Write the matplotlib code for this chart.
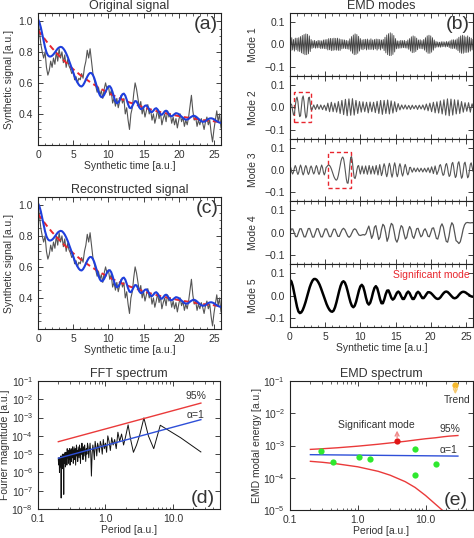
import numpy as np
import matplotlib
matplotlib.use("Agg")
import matplotlib.pyplot as plt
from matplotlib.patches import Rectangle
from matplotlib.ticker import MultipleLocator, LogLocator, NullLocator, NullFormatter

# ---- data ----
dt_slow = 0.2     # sampling of signal, trend, modes 4-5
dt_fast = 0.125   # sampling of modes 1-3

signal = [1.00,0.93,0.85,0.80,0.76,0.80,0.70,0.65,0.68,0.74,
          0.70,0.76,0.72,0.80,0.74,0.82,0.76,0.80,0.73,0.78,
          0.70,0.75,0.71,0.69,0.66,0.68,0.62,0.64,0.60,0.63,
          0.62,0.66,0.63,0.70,0.74,0.81,0.76,0.82,0.74,0.66,
          0.62,0.58,0.54,0.57,0.52,0.55,0.50,0.56,0.60,0.56,
          0.58,0.52,0.55,0.47,0.50,0.45,0.50,0.44,0.48,0.52,
          0.47,0.50,0.40,0.44,0.36,0.30,0.40,0.44,0.53,0.60,
          0.56,0.50,0.44,0.48,0.40,0.44,0.38,0.42,0.46,0.40,
          0.43,0.36,0.40,0.34,0.38,0.43,0.37,0.41,0.33,0.37,
          0.40,0.35,0.42,0.38,0.40,0.34,0.38,0.33,0.37,0.31,
          0.36,0.40,0.35,0.38,0.32,0.36,0.33,0.38,0.45,0.52,
          0.42,0.36,0.38,0.32,0.36,0.33,0.37,0.34,0.30,0.35,
          0.38,0.33,0.36,0.28,0.22,0.30,0.36,0.42,0.35,0.40,
          0.31]

trend = [0.940,0.927,0.915,0.903,0.891,0.879,0.868,0.856,0.845,0.835,
         0.824,0.814,0.803,0.793,0.784,0.774,0.765,0.756,0.747,0.738,
         0.729,0.720,0.712,0.704,0.696,0.688,0.680,0.673,0.666,0.658,
         0.651,0.644,0.637,0.631,0.624,0.618,0.612,0.605,0.599,0.593,
         0.588,0.582,0.576,0.571,0.565,0.560,0.555,0.550,0.545,0.540,
         0.535,0.531,0.526,0.522,0.517,0.513,0.509,0.505,0.501,0.497,
         0.493,0.489,0.485,0.482,0.478,0.474,0.471,0.468,0.464,0.461,
         0.458,0.455,0.452,0.449,0.446,0.443,0.440,0.437,0.434,0.432,
         0.429,0.427,0.424,0.422,0.419,0.417,0.415,0.412,0.410,0.408,
         0.406,0.404,0.402,0.400,0.398,0.396,0.394,0.392,0.390,0.388,
         0.387,0.385,0.383,0.382,0.380,0.378,0.377,0.375,0.374,0.372,
         0.371,0.370,0.368,0.367,0.365,0.364,0.363,0.362,0.360,0.359,
         0.358,0.357,0.356,0.355,0.354,0.353,0.351,0.350,0.349,0.348,
         0.348]

# modes in units of 1e-3
mode1 = [20,-28,30,-25,22,-30,28,-24, 28,-30,30,-32,35,-38,40,-42,
         44,-46,47,-46,45,-42,38,-32, 22,-18,16,-15,18,-17,14,-16,
         18,-15,17,-19,16,-18,20,-19, 21,-20,22,-25,26,-24,27,-28,
         26,-27,28,-25,27,-26,28,-27, 25,-27,22,-20,21,-18,20,-19,
         18,-20,16,-22,25,-30,35,-40, 42,-46,47,-45,44,-40,36,-30,
         26,-22,20,-24,22,-20,23,-25, 24,-22,20,-23,25,-22,20,-24,
         22,-20,24,-26,23,-20,22,-25, 20,-18,22,-28,32,-38,42,-46,
         48,-50,52,-50,48,-45,40,-34, 26,-20,16,-18,15,-17,18,-16,
         17,-15,18,-16,14,-17,20,-22, 26,-30,34,-37,38,-36,35,-32,
         28,-24,20,-18,21,-19,17,-20, 22,-26,30,-34,38,-40,41,-40,
         38,-35,30,-26,20,-16,13,-12, 11,-12,10,-13,12,-11,12,-10,
         11,-12,13,-10,12,-14,16,-18, 20,-19,21,-18,20,-22,25,-28,
         32,-36,38,-40,41,-40,38,-36, 33,-36,38,-35,32,-30,28,-25,
         22]

mode2 = [5,15,10,-15,-35,-30,5,35,45,25,-15,-42,-38,0,40,50,25,-20,-48,-40,0,40,45,15,-10,
         -12,0,10,0,-10,0,12,0,-9,0,10,0,-11,0,9,0,
         -15,0,18,0,-20,0,22,0,-20,0,18,0,-22,0,25,0,
         -28,0,30,0,-33,0,35,0,-38,0,37,0,-36,0,38,0,-35,0,30,0,-28,0,25,0,
         -22,0,24,0,-20,0,22,0,-25,0,23,0,-20,0,22,0,-24,0,26,0,
         -28,0,30,0,-32,0,30,0,-28,0,32,0,-30,0,28,0,-26,0,24,0,-20,0,16,0,
         -12,0,10,0,-8,0,10,0,-9,0,8,0,-10,0,9,0,-7,0,8,0,-10,0,9,0,-8,0,10,0,-12,0,14,0,-16,0,18,0,
         -20,0,22,0,-25,0,24,0,-26,0,28,0,-30,0,33,0,-35,0,37,0,-38,0,36,0,-35,0,33,0,-30,0,32,0,-28,0,25,0,-22,0,20,0,
         -18,0,20,0,-22,0,15,0]

mode3 = [18,9,-9,-18,-9,9, 20,10,-10,-20,-10,10, 22,11,-11,-22,-11,11,
         20,10,-10,-20,-10,10, 18,9,-9,-18,-9,9, 20,10,-10,-20,-10,10,
         22,11,-11,-22,-11,11, 15,20,
         22,20,14,5,-7,-19,-30,-38,-44,-45,-38,-23,-2,20,40,53,58,49,24,-9,
         -39,-58,-59,-28,20,56,60,35,-4,-34,-38,-24,-1,17,20,
         0,-18,0,18,0,-17,0,18,0,-19,0,20,0,-18,0,17,0,-18,0,20,0,-22,0,24,0,-25,
         -13,13,28,15,-15,-30,-15,15,30,15,-15,-32,-16,16,32,16,
         -16,-30,-15,15,28,14,-14,-27,-13,13,25,12,-12,-22,-11,11,
         12,0,-10,0,9,0,-8,0,9,0,-8,0,8,0,-9,0,8,0,-9,0,10,0,-12,0,14,0,-16,0,18,0,-20,-10,
         0,20,24,11,-11,-24,-20, 0,23,29,13,-13,-29,-23, 0,27,34,15,-15,-34,-27,
         0,30,37,16,-16,-37,-30, 0,28,35,15,-15,-35,-28, 0,25,32,14,-5]

mode4 = [0,17,17,0,-17,-17, 0,18,18,0,-18,-18, 0,19,19,0,-19,-19,
         0,18,18,0,-18,-18, 0,17,17,0,-17,-17, 0,16,16,0,-16,-16,
         0,14,20,14,0,-14,-20,-14, 0,13,18,13,0,-10,-12,-10,
         -8,-10,-4,
         15,30,5,-25,-10,25,32,0,-30,-20, 15,38,30,0,-38,-20,20,42,35,5,
         -30,-42,-25,10,32,25,-5,-28,-20,10, 28,15,-15,-25,-5,18,20,0,-18,-12,
         10,18,5,-15,-18,0,20,22,0,-25, -28,-5,28,40,25,-10,-38,-42,-15,25,
         45,35,0,-35,-40,-48,-40,-15,15,35, 44,46,45,44,45,45]

mode5 = [70,63,42,12,-20,-50,-71,-78,-75,-65,
         -49,-30,-7,15,37,54,67,74,74,70,
         61,49,33,15,-3,-21,-38,-52,-63,-70,
         -72,-67,-52,-30,-4,22,44,59,64,58,
         42,19,-7,-30,-46,-52,-45,-27,-2,23,
         41,48,40,18,-10,-32,-40,-32,-12,14,
         34,42,33,10,-16,-34,-34,-17,6,22,
         23,8,-10,-18,-13,0,13,18,11,-3,
         -15,-15,-3,11,18,11,-3,-15,-15,-4,
         11,17,11,-1,-11,-11,-3,7,15,15,
         12,6,-1,-8,-13,-15,-13,-7,2,10,
         16,18,16,10,3,-4,-10,-12,-10,-5,
         3,10,15,17,16,13,8,4,-1,-4,
         -5]

# FFT magnitude (log10) at frequency index k = 1..130
fft_log = [-4.88,-4.10,-3.70,-3.42,-4.70,-4.00,-3.02,-3.90,-4.50,-4.90,-4.20,-3.40,
           -4.0,-4.5,-3.9,-4.3,-3.8,-4.7,-4.2,-4.5,-4.1,-4.8,
           -4.3,-4.0,-4.9,-4.4,-4.7,-4.2,-5.0,-4.5,-4.3,-4.9,
           -4.6,-4.4,-5.1,-4.6,-4.3,-5.3,-4.8,-4.5,-5.0,-6.2,
           -4.9,-4.4,-4.8,-5.2,-4.6,-4.4,-5.0,-4.7,-5.4,-4.8,
           -4.5,-5.1,-4.6,-5.3,-4.9,-4.4,-5.0,-4.7,-5.5,-4.8,
           -4.5,-5.2,-4.9,-4.6,-5.4,-4.8,-5.1,-4.5,-5.0,-5.6,
           -4.7,-4.9,-5.3,-4.6,-5.0,-5.5,-4.8,-4.6,-5.2,-4.9,
           -5.4,-4.7,-5.1,-4.8,-5.6,-5.0,-4.7,-5.3,-4.9,-5.5,
           -4.8,-5.2,-5.0,-4.7,-5.6,-5.1,-4.9,-5.4,-5.0,-5.7,
           -4.9,-5.2,-5.5,-5.0,-5.3,-7.2,-5.4,-5.0,-5.6,-5.2,
           -5.0,-5.8,-5.3,-5.1,-5.6,-7.4,-5.5,-5.1,-5.4,-5.7,
           -5.2,-5.5,-6.0,-5.3,-5.6,-5.2,-5.5,-5.3]
fft_fit_period = [0.2, 26.0]
fft_alpha1 = [6.0e-6, 7.7e-4]
fft_conf95 = [4.8e-5, 6.2e-3]

emd_period = [0.29, 0.43, 1.06, 1.51, 7.0, 6.9, 14.1]
emd_energy = [7.0e-4, 3.0e-4, 4.4e-4, 3.7e-4, 7.9e-4, 1.2e-4, 2.6e-4]
sig_period, sig_energy = 3.8, 1.4e-3
trend_period, trend_energy = 27.5, 7.5e-2
emd_conf_period = [0.2, 0.3, 0.5, 1, 2, 3, 5, 7, 10, 14, 18, 22, 30]
emd_upper_log = [-3.12,-3.10,-3.07,-3.02,-2.96,-2.92,-2.87,-2.83,-2.79,-2.76,-2.73,-2.71,-2.69]
emd_lower_log = [-3.49,-3.52,-3.57,-3.66,-3.80,-3.92,-4.12,-4.30,-4.55,-4.82,-5.02,-5.20,-5.55]
emd_fit_period = [0.2, 30.0]
emd_alpha1 = [5.2e-4, 4.7e-4]

# ---- style ----
plt.rcParams.update({
    "font.size": 7,
    "text.color": "#333333",
    "axes.labelcolor": "#333333",
    "axes.edgecolor": "#222222",
    "axes.linewidth": 0.8,
    "xtick.color": "#222222",
    "ytick.color": "#222222",
    "xtick.labelcolor": "#333333",
    "ytick.labelcolor": "#333333",
    "xtick.direction": "in",
    "ytick.direction": "in",
    "xtick.top": True,
    "ytick.right": True,
    "xtick.major.size": 3.5,
    "ytick.major.size": 3.5,
    "xtick.minor.size": 1.8,
    "ytick.minor.size": 1.8,
    "xtick.major.width": 0.6,
    "ytick.major.width": 0.6,
    "xtick.minor.width": 0.5,
    "ytick.minor.width": 0.5,
    "xtick.labelsize": 7.5,
    "ytick.labelsize": 7.5,
    "axes.titlesize": 9,
    "axes.labelsize": 7.5,
    "mathtext.fontset": "custom",
    "mathtext.rm": "Liberation Sans",
    "mathtext.it": "Liberation Sans:italic",
})
plt.rcParams["font.family"] = ["Liberation Sans", "DejaVu Sans"]

GREY = "#555555"
RED = "#e8262e"
BLUE = "#1f3fdc"

t_slow = np.arange(len(signal)) * dt_slow
blue = np.array(trend) + np.array(mode5) * 1e-3

fig = plt.figure(figsize=(4.74, 5.38), dpi=100)


def signal_panel(rect, title, label):
    ax = fig.add_axes(rect)
    ax.plot(t_slow, signal, color=GREY, lw=0.8)
    ax.plot(t_slow, trend, color=RED, lw=1.4, ls=(0, (3, 2)))
    ax.plot(t_slow, blue, color=BLUE, lw=1.5)
    ax.set_xlim(0, 26)
    ax.set_ylim(0.2, 1.05)
    ax.set_xticks([0, 5, 10, 15, 20, 25])
    ax.set_yticks([0.4, 0.6, 0.8, 1.0])
    ax.set_yticklabels(["0.4", "0.6", "0.8", "1.0"])
    ax.xaxis.set_minor_locator(MultipleLocator(1))
    ax.yaxis.set_minor_locator(MultipleLocator(0.05))
    ax.set_title(title, pad=3)
    ax.set_xlabel("Synthetic time [a.u.]", labelpad=1)
    ax.set_ylabel("Synthetic signal [a.u.]", labelpad=3)
    ax.text(0.985, 0.91, label, transform=ax.transAxes, ha="right", va="center", fontsize=14)
    return ax


signal_panel([0.0802, 0.7305, 0.386, 0.2453], "Original signal", "(a)")
signal_panel([0.0802, 0.3885, 0.386, 0.2453], "Reconstructed signal", "(c)")

# EMD modes
modes = [(mode1, dt_fast, "#444444", 0.6), (mode2, dt_fast, GREY, 0.8),
         (mode3, dt_fast, GREY, 0.8), (mode4, dt_slow, GREY, 0.9),
         (mode5, dt_slow, "black", 1.8)]
h = 0.11673
mode_axes = []
for i, (vals, dt, col, lw) in enumerate(modes):
    ax = fig.add_axes([0.6118, 0.3922 + (4 - i) * h, 0.386, h])
    tt = np.arange(len(vals)) * dt
    ax.plot(tt, np.array(vals) * 1e-3, color=col, lw=lw)
    ax.set_xlim(0, 26)
    ax.set_ylim(-0.14, 0.14)
    ax.set_yticks([-0.1, 0.0, 0.1])
    ax.set_yticklabels(["\u22120.1", "0.0", "0.1"])
    ax.set_xticks([0, 5, 10, 15, 20, 25])
    ax.xaxis.set_minor_locator(MultipleLocator(1))
    ax.set_ylabel("Mode %d" % (i + 1), labelpad=5)
    if i < 4:
        ax.tick_params(labelbottom=False)
    mode_axes.append(ax)

mode_axes[0].set_title("EMD modes", pad=3)
mode_axes[0].text(0.985, 0.81, "(b)", transform=mode_axes[0].transAxes,
                  ha="right", va="center", fontsize=14)
mode_axes[1].add_patch(Rectangle((0.6, -0.068), 2.4, 0.136, fill=False,
                                 ec=RED, lw=1.0, ls=(0, (3, 2))))
mode_axes[2].add_patch(Rectangle((5.47, -0.079), 3.2, 0.159, fill=False,
                                 ec=RED, lw=1.0, ls=(0, (3, 2))))
mode_axes[4].text(25.6, 0.09, "Significant mode", color=RED, ha="right", va="center", fontsize=7.5)
mode_axes[4].set_xlabel("Synthetic time [a.u.]", labelpad=1)


def log_axes(ax, ymin):
    ax.set_xscale("log")
    ax.set_yscale("log")
    ax.set_xlim(0.1, 50)
    ax.set_ylim(ymin, 1e-1)
    ax.set_xticks([0.1, 1, 10])
    ax.set_xticklabels(["0.1", "1.0", "10.0"])
    ax.xaxis.set_minor_locator(LogLocator(base=10, subs=np.arange(2, 10)))
    ax.xaxis.set_minor_formatter(NullFormatter())
    ax.yaxis.set_major_locator(LogLocator(base=10, numticks=20))
    ax.yaxis.set_minor_locator(NullLocator())
    ax.set_xlabel("Period [a.u.]", labelpad=1)


# FFT spectrum
axd = fig.add_axes([0.0802, 0.0539, 0.384, 0.2379])
fft_period = 26.0 / np.arange(1, len(fft_log) + 1)
axd.plot(fft_period, 10.0 ** np.array(fft_log), color="#111111", lw=0.7)
axd.plot(fft_fit_period, fft_conf95, color="#ea3a3a", lw=1.0)
axd.plot(fft_fit_period, fft_alpha1, color="#2e4fd8", lw=1.0)
log_axes(axd, 1e-8)
axd.set_title("FFT spectrum", pad=3)
axd.set_ylabel("Fourier magnitude [a.u.]", labelpad=1)
axd.text(22, 1.5e-2, "95%", ha="center", va="center", fontsize=7.5)
axd.text(22, 1.3e-3, "\u03b1=1", ha="center", va="center", fontsize=7.5)
axd.text(0.97, 0.08, "(d)", transform=axd.transAxes, ha="right", va="center", fontsize=14)

# EMD spectrum
axe = fig.add_axes([0.6118, 0.052, 0.386, 0.2398])
axe.plot(emd_conf_period, 10.0 ** np.array(emd_upper_log), color="#ea3a3a", lw=1.0)
axe.plot(emd_conf_period, 10.0 ** np.array(emd_lower_log), color="#ea3a3a", lw=1.0)
axe.plot(emd_fit_period, emd_alpha1, color="#2e4fd8", lw=1.0)
axe.plot(emd_period, emd_energy, "o", color="#2ee82e", ms=4.5, mec="none")
axe.plot([sig_period], [sig_energy], "o", color="#e01515", ms=4.5, mec="none")
axe.plot([trend_period], [trend_energy], "o", color="#f5b82a", ms=4.5, mec="none")
axe.annotate("", xy=(sig_period, 2.9e-3), xytext=(sig_period, 1.75e-3),
             arrowprops=dict(arrowstyle="->", color="#f08a8a", lw=1.0, shrinkA=0, shrinkB=0))
axe.annotate("", xy=(trend_period, 3.9e-2), xytext=(trend_period, 6.2e-2),
             arrowprops=dict(arrowstyle="->", color="#f5c870", lw=1.0, shrinkA=0, shrinkB=0))
log_axes(axe, 1e-5)
axe.set_title("EMD spectrum", pad=3)
axe.set_ylabel("EMD modal energy [a.u.]", labelpad=1)
axe.text(1.9, 4.2e-3, "Significant mode", ha="center", va="center", fontsize=7.5)
axe.text(23, 3.2e-3, "95%", ha="center", va="center", fontsize=7.5)
axe.text(22, 7.5e-4, "\u03b1=1", ha="center", va="center", fontsize=7.5)
axe.text(29, 2.6e-2, "Trend", ha="center", va="center", fontsize=7.5)
axe.text(0.97, 0.07, "(e)", transform=axe.transAxes, ha="right", va="center", fontsize=14)

fig.savefig("out.png", dpi=100)
